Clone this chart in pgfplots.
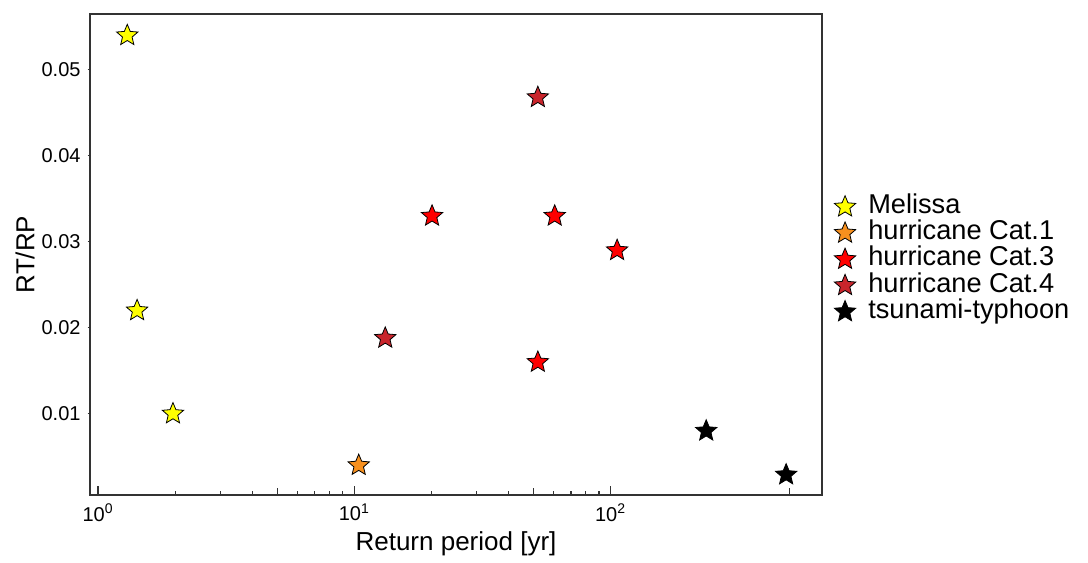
\documentclass[border=0pt]{standalone}
\usepackage{pgfplots}
\pgfplotsset{compat=1.18}
\usepackage{fontspec}
\setmainfont{Liberation Sans}
\definecolor{cMel}{HTML}{FFFF00}
\definecolor{cC1}{HTML}{F7901E}
\definecolor{cC3}{HTML}{FF0000}
\definecolor{cC4}{HTML}{C9252C}
\definecolor{axgray}{HTML}{333333}
\pgfdeclareplotmark{fstar}{%
  \pgfpathmoveto{\pgfpointpolar{90}{\pgfplotmarksize}}%
  \pgfpathlineto{\pgfpointpolar{126}{0.45\pgfplotmarksize}}%
  \pgfpathlineto{\pgfpointpolar{162}{\pgfplotmarksize}}%
  \pgfpathlineto{\pgfpointpolar{198}{0.45\pgfplotmarksize}}%
  \pgfpathlineto{\pgfpointpolar{234}{\pgfplotmarksize}}%
  \pgfpathlineto{\pgfpointpolar{270}{0.45\pgfplotmarksize}}%
  \pgfpathlineto{\pgfpointpolar{306}{\pgfplotmarksize}}%
  \pgfpathlineto{\pgfpointpolar{342}{0.45\pgfplotmarksize}}%
  \pgfpathlineto{\pgfpointpolar{18}{\pgfplotmarksize}}%
  \pgfpathlineto{\pgfpointpolar{54}{0.45\pgfplotmarksize}}%
  \pgfpathclose
  \pgfusepathqfillstroke
}
\begin{document}
\begin{tikzpicture}
\begin{axis}[
  scale only axis,
  width=366pt, height=240.5pt,
  xmode=log,
  xmin=0.93, xmax=668,
  ymin=0.00055, ymax=0.0565,
  axis line style={axgray, line width=0.75pt},
  xtick={1,10,100},
  xticklabels={10\textsuperscript{0},10\textsuperscript{1},10\textsuperscript{2}},
  extra x ticks={5,50,500},
  extra x tick labels={},
  extra x tick style={major tick length=3.3pt, xtick align=inside, xtick pos=bottom},
  ytick=\empty,
  extra y ticks={0.01,0.02,0.03,0.04,0.05},
  extra y tick labels={0.01,0.02,0.03,0.04,0.05},
  extra y tick style={major tick length=1.2pt, ytick align=outside, ytick pos=left},
  xtick pos=bottom, ytick pos=left,
  xtick align=inside,
  major tick length=4.5pt,
  minor tick length=2pt,
  tick style={axgray, line width=0.6pt},
  ticklabel style={font=\fontsize{10}{11}\selectfont, text=black},
  xticklabel style={yshift=-1pt},
  xlabel={Return period [yr]},
  ylabel={RT/RP},
  label style={font=\fontsize{13}{13}\selectfont},
  xlabel style={at={(axis description cs:0.5,-0.102)}, anchor=center},
  ylabel style={at={(axis description cs:-0.0888,0.5)}, anchor=center},
  legend style={at={(1.008,0.49)}, anchor=west, draw=none, fill=none,
    font=\fontsize{13.6}{13.6}\selectfont,
    nodes={inner sep=0pt, text height=9.8pt, text depth=3.3pt},
    row sep=0pt, column sep=0pt},
  legend cell align=left,
  legend image code/.code={\path[draw=none,fill=none] (0pt,-3pt) rectangle (17pt,3pt);
    \draw[#1] plot coordinates {(5.4pt,0pt)};},
  every axis plot/.append style={only marks, mark=fstar, mark size=5.6pt,
    mark options={draw=black!85, line width=0.55pt}},
]
\addplot[mark options={fill=cMel}] coordinates {(1.30,0.054) (1.42,0.022) (1.96,0.010)};
\addlegendentry{Melissa}
\addplot[mark options={fill=cC1}] coordinates {(10.4,0.004)};
\addlegendentry{hurricane Cat.1}
\addplot[mark options={fill=cC3}] coordinates {(20.1,0.033) (60.5,0.033) (106,0.029) (52,0.016)};
\addlegendentry{hurricane Cat.3}
\addplot[mark options={fill=cC4}] coordinates {(52,0.0468) (13.2,0.0188)};
\addlegendentry{hurricane Cat.4}
\addplot[mark options={fill=black}] coordinates {(236,0.008) (484,0.0029)};
\addlegendentry{tsunami-typhoon}
\coordinate (sw) at (rel axis cs:0,0);
\end{axis}
\path[use as bounding box] (sw) ++(-45pt,-30pt) rectangle ++(544pt,277.5pt);
\end{tikzpicture}
\end{document}
